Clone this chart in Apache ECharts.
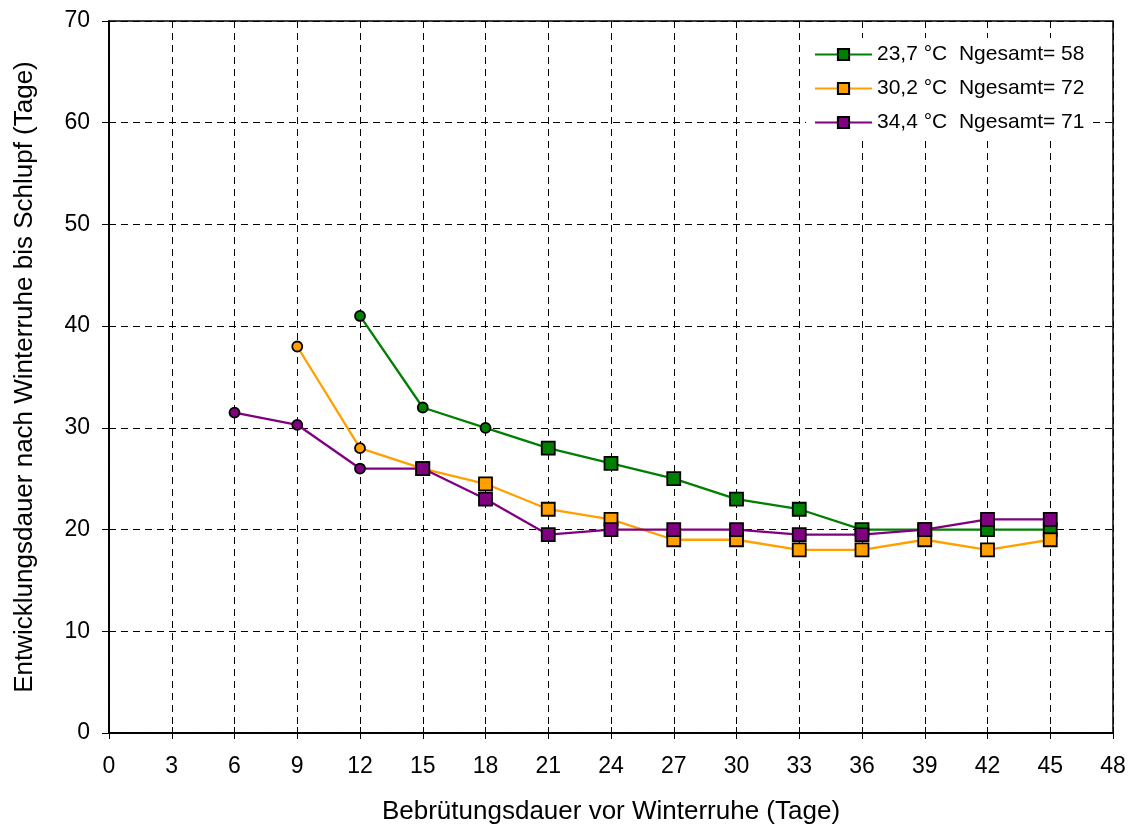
<!DOCTYPE html>
<html>
<head>
<meta charset="utf-8">
<script src="https://cdn.jsdelivr.net/npm/echarts@6/dist/echarts.min.js"></script>
<style>html,body{margin:0;padding:0;background:#fff}#c{width:1136px;height:828px}</style>
</head>
<body>
<div id="c"></div>
<script>
// ---- data ----
const days = [6, 9, 12, 15, 18, 21, 24, 27, 30, 33, 36, 39, 42, 45];
const green = [null, null, 41, 32, 30, 28, 26.5, 25, 23, 22, 20, 20, 20, 20];
const orange = [null, 38, 28, 26, 24.5, 22, 21, 19, 19, 18, 18, 19, 18, 19];
const purple = [31.5, 30.3, 26, 26, 23, 19.5, 20, 20, 20, 19.5, 19.5, 20, 21, 21];
// days drawn with a small round marker instead of a square
const greenCircleDays = [12, 15, 18];
const orangeCircleDays = [9, 12];
const purpleCircleDays = [6, 9, 12];
const seriesNames = ['23,7 °C  Ngesamt= 58', '30,2 °C  Ngesamt= 72', '34,4 °C  Ngesamt= 71'];
const xTicks = [0, 3, 6, 9, 12, 15, 18, 21, 24, 27, 30, 33, 36, 39, 42, 45, 48];
const yTicks = [0, 10, 20, 30, 40, 50, 60, 70];

const colors = ['#008000', '#FFA000', '#800080'];
const font = 'Liberation Sans, Arial, sans-serif';

function build(vals, circles) {
  const out = [];
  days.forEach((d, i) => {
    if (vals[i] == null) return;
    const isC = circles.indexOf(d) >= 0;
    out.push({value: [d, vals[i]], symbol: isC ? 'circle' : 'rect', symbolSize: isC ? 10 : 13});
  });
  return out;
}

const chart = echarts.init(document.getElementById('c'), null, {renderer: 'canvas'});
const gridLine = {show: true, lineStyle: {color: '#000', type: [7, 5], width: 1}};
const mk = (name, vals, circles, color) => ({
  name, type: 'line', data: build(vals, circles),
  symbol: 'rect', symbolSize: 13,
  lineStyle: {color, width: 2.3},
  itemStyle: {color, borderColor: '#000', borderWidth: 1.8},
  emphasis: {disabled: true}, animation: false
});
chart.setOption({
  animation: false,
  textStyle: {fontFamily: font},
  grid: {left: 109, right: 23, top: 21, bottom: 95, show: true, borderColor: '#000', borderWidth: 1.5,
         containLabel: false, outerBoundsMode: 'none'},
  legend: {
    orient: 'vertical', left: 806, top: 38, padding: [6, 8, 8, 8],
    backgroundColor: '#fff', itemWidth: 57, itemHeight: 14, itemGap: 13,
    textStyle: {fontSize: 21, color: '#000', fontFamily: font},
    data: seriesNames
  },
  xAxis: [{
    type: 'value', min: xTicks[0], max: xTicks[xTicks.length - 1], interval: 3,
    name: 'Bebrütungsdauer vor Winterruhe (Tage)', nameLocation: 'middle', nameGap: 66,
    nameTextStyle: {fontSize: 26, color: '#000', fontFamily: font},
    axisLine: {lineStyle: {color: '#000', width: 1.5}},
    axisTick: {inside: true, length: 6, lineStyle: {color: '#000'}},
    axisLabel: {fontSize: 23, color: '#000', margin: 22, fontFamily: font},
    splitLine: gridLine
  }, {
    type: 'value', position: 'top', min: 0, max: 48, interval: 3,
    axisLine: {show: true, lineStyle: {color: '#000', width: 1.5}},
    axisTick: {inside: true, length: 6, lineStyle: {color: '#000'}},
    axisLabel: {show: false}, splitLine: {show: false}
  }],
  yAxis: [{
    type: 'value', min: yTicks[0], max: yTicks[yTicks.length - 1], interval: 10,
    name: 'Entwicklungsdauer nach Winterruhe bis Schlupf (Tage)', nameLocation: 'middle', nameGap: 71,
    nameTextStyle: {fontSize: 26, color: '#000', fontFamily: font},
    axisLine: {show: true, lineStyle: {color: '#000', width: 1.5}},
    axisTick: {show: true, inside: true, length: 7, lineStyle: {color: '#000'}},
    axisLabel: {fontSize: 23, color: '#000', margin: 19, fontFamily: font},
    splitLine: gridLine
  }, {
    type: 'value', position: 'right', min: 0, max: 70, interval: 10,
    axisLine: {show: true, lineStyle: {color: '#000', width: 1.5}},
    axisTick: {show: true, inside: true, length: 7, lineStyle: {color: '#000'}},
    axisLabel: {show: false}, splitLine: {show: false}
  }],
  series: [
    mk(seriesNames[0], green, greenCircleDays, colors[0]),
    mk(seriesNames[1], orange, orangeCircleDays, colors[1]),
    mk(seriesNames[2], purple, purpleCircleDays, colors[2])
  ]
});
</script>
</body>
</html>
